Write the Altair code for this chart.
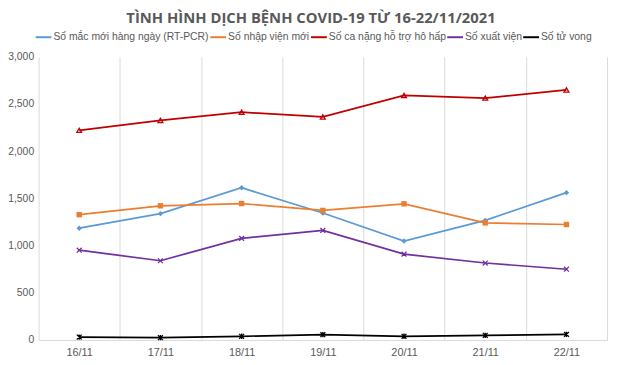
import altair as alt
import pandas as pd

dates = ["16/11", "17/11", "18/11", "19/11", "20/11", "21/11", "22/11"]
series_names = [
    "Số mắc mới hàng ngày (RT-PCR)",
    "Số nhập viện mới",
    "Số ca nặng hỗ trợ hô hấp",
    "Số xuất viện",
    "Số tử vong",
]
new_cases = [1184, 1338, 1612, 1345, 1048, 1267, 1560]
hospitalized = [1327, 1421, 1445, 1372, 1442, 1240, 1223]
severe = [2220, 2325, 2412, 2362, 2590, 2562, 2648]
discharged = [951, 839, 1076, 1160, 909, 815, 749]
deaths = [31, 24, 39, 56, 39, 49, 59]

colors = ["#5B9BD5", "#ED7D31", "#C00000", "#7030A0", "#000000"]
x_shape = "M-1,-1L1,1M-1,1L1,-1"
star_shape = "M-1,-1L1,1M-1,1L1,-1M0,-1.1L0,1.1"
shapes = ["diamond", "square", "triangle-up", x_shape, star_shape]

rows = []
for name, vals in zip(series_names, [new_cases, hospitalized, severe, discharged, deaths]):
    for d, v in zip(dates, vals):
        rows.append({"date": d, "series": name, "marker": name, "value": v})
df = pd.DataFrame(rows)

x_enc = alt.X(
    "date:N",
    sort=dates,
    title=None,
    scale=alt.Scale(type="band", paddingInner=0, paddingOuter=0),
    axis=alt.Axis(
        labelAngle=0,
        grid=True,
        tickBand="extent",
        ticks=False,
        gridColor="#D9D9D9",
        domainColor="#D9D9D9",
        labelColor="#595959",
        labelFontSize=11,
        labelFont="Liberation Sans",
        labelPadding=7,
    ),
)
y_enc = alt.Y(
    "value:Q",
    title=None,
    scale=alt.Scale(domain=[0, 3000]),
    axis=alt.Axis(
        values=[0, 500, 1000, 1500, 2000, 2500, 3000],
        format=",d",
        grid=False,
        domain=False,
        ticks=False,
        labelColor="#595959",
        labelFontSize=10.5,
        labelFont="Liberation Sans",
        labelPadding=5,
    ),
)
color_enc = alt.Color(
    "series:N",
    scale=alt.Scale(domain=series_names, range=colors),
    sort=series_names,
    legend=alt.Legend(
        title=None,
        orient="none",
        legendX=-4,
        legendY=-29,
        direction="horizontal",
        columns=5,
        symbolType="stroke",
        symbolStrokeWidth=2,
        symbolSize=256,
        labelFontSize=10.5,
        labelFont="Liberation Sans",
        labelColor="#595959",
        columnPadding=-9,
        labelOffset=1,
        labelLimit=300,
    ),
)

base = alt.Chart(df).encode(x=x_enc, y=y_enc)

lines = base.mark_line(strokeWidth=1.75).encode(color=color_enc)

marker_color = alt.Color(
    "marker:N", scale=alt.Scale(domain=series_names, range=colors), legend=None
)
marker_shape = alt.Shape(
    "marker:N", scale=alt.Scale(domain=series_names, range=shapes), legend=None
)

filled_pts = base.transform_filter(
    alt.FieldOneOfPredicate(field="marker", oneOf=series_names[:2])
).mark_point(filled=True, opacity=1, size=30).encode(
    color=marker_color, shape=marker_shape
)
stroked_pts = base.transform_filter(
    alt.FieldOneOfPredicate(field="marker", oneOf=series_names[2:])
).mark_point(filled=False, opacity=1, size=24, strokeWidth=1.3).encode(
    color=marker_color, shape=marker_shape
)

chart = (
    alt.layer(lines, filled_pts, stroked_pts)
    .resolve_scale(color="independent", shape="independent")
    .properties(
        width=576,
        height=287,
        autosize=alt.AutoSizeParams(type="none"),
        padding={"left": 31, "top": 47, "right": 5, "bottom": 22},
        title=alt.TitleParams(
            "TÌNH HÌNH DỊCH BỆNH COVID-19 TỪ 16-22/11/2021",
            anchor="middle",
            fontSize=15,
            font="Open Sans",
            fontWeight="bold",
            color="#595959",
            offset=2,
            dx=-12,
        ),
    )
    .configure_view(stroke=None)
)

chart.save("out.html", embed_options={"renderer": "svg", "actions": False})
